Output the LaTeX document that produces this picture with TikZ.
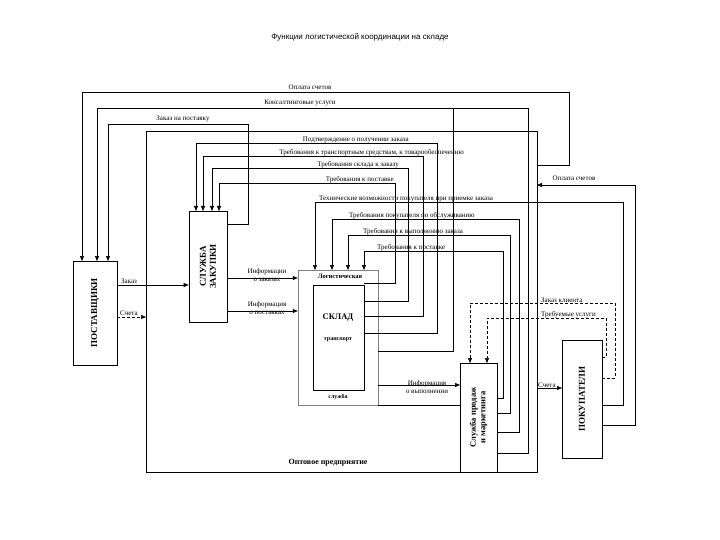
\documentclass[tikz,border=0pt]{standalone}
\usepackage{fontspec}
\setmainfont{Liberation Serif}
\newfontfamily\titlefont{Liberation Sans}
\usetikzlibrary{arrows.meta}
\begin{document}
\begin{tikzpicture}[x=1pt,y=-1pt,
  box/.style={draw,line width=0.6pt,inner sep=0pt},
  lbl/.style={font=\fontsize{7}{8}\selectfont,inner sep=1pt},
  ln/.style={line width=0.5pt},
  ar/.style={line width=0.5pt,-{Triangle[length=5pt,width=4pt]}},
  gl/.style={line width=0.5pt,gray}]
\useasboundingbox (0,0) rectangle (720,540);
\node[font=\titlefont\fontsize{8}{9}\selectfont] (title) at (360,37) {Функции логистической координации на складе};
% enterprise boundary
\draw[ln] (146,131) rectangle (537,472);
\node[font=\bfseries\fontsize{8}{9}\selectfont,anchor=west] (opt) at (285,463) {Оптовое предприятие};
% boxes
\node[box,minimum width=44pt,minimum height=104pt] (post) at (95,313) {};
\node[rotate=90,font=\bfseries\fontsize{9}{10}\selectfont] at (post) {ПОСТАВЩИКИ};
\node[box,minimum width=38pt,minimum height=111pt] (zak) at (208,266.5) {};
\node[rotate=90,font=\bfseries\fontsize{9}{10}\selectfont,align=center] at (zak) {СЛУЖБА\\ЗАКУПКИ};
\node[draw,gray,line width=0.5pt,minimum width=80pt,minimum height=135pt] (log) at (338,337.5) {};
\node[box,minimum width=51pt,minimum height=105pt] (skl) at (338.5,337.5) {};
\node[lbl,font=\bfseries\fontsize{6.5}{7.5}\selectfont] at (340,276) {Логистическая};
\node[font=\bfseries\fontsize{8.5}{9}\selectfont] at (338,318) {СКЛАД};
\node[lbl,font=\bfseries\fontsize{6}{7}\selectfont] at (338,340) {транспорт};
\node[lbl,font=\bfseries\fontsize{6}{7}\selectfont] at (338,397) {служба};
\node[box,minimum width=37pt,minimum height=109pt] (sal) at (478.5,417.5) {};
\node[rotate=90,font=\bfseries\fontsize{8.5}{9.5}\selectfont,align=center] at (sal) {Служба продаж\\и маркетинга};
\node[box,minimum width=40pt,minimum height=118pt] (pok) at (582,399) {};
\node[rotate=90,font=\bfseries\fontsize{9}{10}\selectfont] at (pok) {ПОКУПАТЕЛИ};
% top arrows to suppliers
\draw[ar] (537,165) -- (569,165) -- (569,92) -- (82,92) -- (82,261);
\node[lbl] at (310,87) {Оплата счетов};
\draw[ar] (497,453) -- (528,453) -- (528,108) -- (97,108) -- (97,261);
\draw[ln] (378,351) -- (453,351) -- (453,108);
\node[lbl] at (300,103) {Консалтинговые услуги};
\draw[ar] (227,224) -- (248,224) -- (248,124) -- (108,124) -- (108,261);
\node[lbl] at (183,119) {Заказ на поставку};
% into purchasing
\draw[ar] (364,333) -- (437,333) -- (437,143) -- (196,143) -- (196,211);
\node[lbl,anchor=south east] at (410,144) {Подтверждение о получении заказа};
\draw[ar] (364,316) -- (423,316) -- (423,156) -- (203,156) -- (203,211);
\node[lbl,anchor=south east] at (465,157) {Требования к транспортным средствам, к товарообеспечению};
\draw[ar] (364,301) -- (408,301) -- (408,168) -- (212,168) -- (212,211);
\node[lbl,anchor=south east] at (400,169) {Требования склада к заказу};
\draw[ar] (364,283) -- (395,283) -- (395,183) -- (219,183) -- (219,211);
\node[lbl,anchor=south east] at (395,184) {Требования к поставке};
% into logistics
\draw[ar] (pok.east |- 0,405) -- (623,405) -- (623,202) -- (315,202) -- (315,270);
\node[lbl,anchor=south west] at (318,203) {Технические возможности покупателя при приемке заказа};
\draw[ar] (497,432) -- (519,432) -- (519,219) -- (332,219) -- (332,270);
\node[lbl,anchor=south west] at (348,220) {Требования покупателя по обслуживанию};
\draw[ar] (497,413) -- (510,413) -- (510,235) -- (348,235) -- (348,270);
\node[lbl,anchor=south west] at (362,236) {Требования к выполнению заказа};
\draw[ar] (497,398) -- (503,398) -- (503,251) -- (364,251) -- (364,270);
\node[lbl,anchor=south west] at (376,252) {Требования к поставке};
% customers
\draw[ar] (602,425) -- (635,425) -- (635,185) -- (537,185);
\node[lbl] at (574,178) {Оплата счетов};
\draw[ar,densely dashed] (602,378) -- (615,378) -- (615,303) -- (470,303) -- (470,363);
\node[lbl,anchor=south west] at (540,304) {Заказ клиента};
\draw[ar,densely dashed] (602,357) -- (606,357) -- (606,318) -- (487,318) -- (487,363);
\node[lbl,anchor=south west] at (540,319) {Требуемые услуги};
\draw[ar] (537,388) -- (562,388);
\node[lbl,anchor=south west] at (537,389) {Счета};
% logistics to sales
\draw[ar] (378,385) -- (460,385);
\draw[ln] (378,405) -- (460,405);
\node[lbl,align=center] at (427,387) {Информация\\о выполнении};
% suppliers / purchasing
\draw[ar] (post.east |- 0,285) -- (zak.west |- 0,285);
\node[lbl,anchor=south west] at (120,285) {Заказ};
\draw[ar,densely dashed] (post.east |- 0,317) -- (146,317);
\node[lbl,anchor=south west] at (119,317) {Счета};
\draw[ar] (zak.east |- 0,278) -- (log.west |- 0,278);
\node[lbl,align=center] at (267,275) {Информации\\о заказах};
\draw[ar] (zak.east |- 0,311) -- (log.west |- 0,311);
\node[lbl,align=center] at (267,308) {Информация\\о поставках};
\end{tikzpicture}
\end{document}
